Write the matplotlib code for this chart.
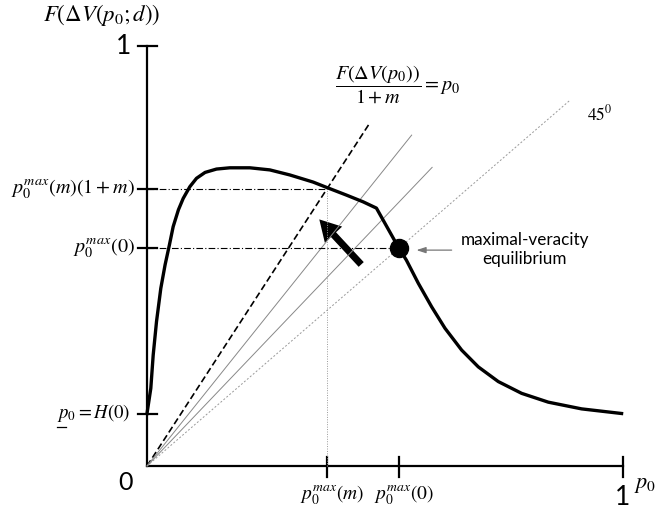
import matplotlib
matplotlib.use("Agg")
import matplotlib.pyplot as plt
from matplotlib.patches import FancyArrowPatch

plt.rcParams['mathtext.fontset'] = 'stix'
plt.rcParams['font.family'] = ['Lato', 'DejaVu Sans']

# curve F(dV(p0; d))
p0_vals = [0.0, 0.008, 0.013, 0.020, 0.029, 0.038, 0.047, 0.055, 0.066, 0.076,
           0.090, 0.104, 0.122, 0.146, 0.174, 0.216, 0.258, 0.300, 0.349,
           0.378, 0.419, 0.454, 0.482, 0.529, 0.545, 0.570, 0.598, 0.626,
           0.661, 0.696, 0.738, 0.787, 0.843, 0.913, 0.997]
F_vals = [0.125, 0.185, 0.264, 0.344, 0.423, 0.479, 0.526, 0.570, 0.610, 0.637,
          0.665, 0.685, 0.699, 0.707, 0.710, 0.710, 0.705, 0.693, 0.676,
          0.663, 0.645, 0.629, 0.614, 0.519, 0.490, 0.435, 0.379, 0.328,
          0.276, 0.236, 0.201, 0.173, 0.152, 0.136, 0.125]

# rays from the origin: slope and where they stop
ray_slopes = [1.745, 1.417, 1.187, 0.98]
ray_ends = [0.468, 0.556, 0.599, 0.887]

p_max_m = 0.378      # p0^max(m)
p_max_0 = 0.529      # p0^max(0)
y_max_m = 0.660      # p0^max(m)(1+m)
y_max_0 = 0.519      # p0^max(0)
p_low = 0.125        # p0 = H(0)

fig = plt.figure(figsize=(6.56, 5.12), dpi=100)
ax = fig.add_axes([0, 0, 1, 1])
ax.set_xlim(-147 / 476, 509 / 476)
ax.set_ylim(-46 / 420, 466 / 420)
ax.axis('off')

# axes
ax.plot([0, 0], [0, 1], color='k', lw=1.6)
ax.plot([0, 1], [0, 0], color='k', lw=1.6)
for yt in [1, y_max_m, y_max_0, p_low]:
    ax.plot([-0.019, 0.021], [yt, yt], color='k', lw=1.6)
for xt in [p_max_m, p_max_0, 1]:
    ax.plot([xt, xt], [-0.026, 0.021], color='k', lw=1.6)

# rays
styles = [dict(color='k', lw=1.2, ls=(0, (4, 2))),
          dict(color='#888888', lw=0.7, ls='-'),
          dict(color='#888888', lw=0.7, ls='-'),
          dict(color='#999999', lw=0.7, ls=(0, (2, 2)))]
for s, e, st in zip(ray_slopes, ray_ends, styles):
    ax.plot([0, e], [0, s * e], **st)

# guide lines
ax.plot([0, p_max_m], [y_max_m, y_max_m], color='k', lw=0.8, ls=(0, (6, 2, 1, 2)))
ax.plot([0, p_max_0], [y_max_0, y_max_0], color='k', lw=0.8, ls=(0, (6, 2, 1, 2)))
ax.plot([p_max_m, p_max_m], [0, y_max_m], color='#999999', lw=0.7, ls=(0, (1, 1.5)))

# the curve
ax.plot(p0_vals, F_vals, color='k', lw=2.4, solid_joinstyle='round')
ax.plot([p_max_0], [y_max_0], 'o', color='k', ms=13)

# arrows
ax.add_patch(FancyArrowPatch((0.454, 0.475), (0.358, 0.592),
                             arrowstyle='simple,head_width=1.7,head_length=1.5,tail_width=0.5',
                             mutation_scale=10, color='k', lw=0))
ax.add_patch(FancyArrowPatch((0.640, 0.514), (0.566, 0.514),
                             arrowstyle='-|>,head_width=0.18,head_length=0.55',
                             mutation_scale=10, color='#777777', lw=0.9,
                             shrinkA=0, shrinkB=0))

# text
ax.text(-0.0945, 1.074, r'$F(\Delta V(p_0;d))$', fontsize=16.5, ha='center', va='center')
ax.text(-0.050, 0.998, '1', fontsize=19, ha='center', va='center')
ax.text(-0.046, -0.040, '0', fontsize=18, ha='center', va='center')
ax.text(1.0, -0.076, '1', fontsize=19, ha='center', va='center')
ax.text(1.046, -0.045, r'$p_0$', fontsize=16, ha='center', va='center')

ax.text(-0.025, y_max_m, r'$p_0^{max}(m)(1+m)$', fontsize=14.5, ha='right', va='center')
ax.text(-0.025, y_max_0, r'$p_0^{max}(0)$', fontsize=14.5, ha='right', va='center')
ax.text(-0.190, p_low, r'$p_0 = H(0)$', fontsize=13.5, ha='left', va='center')
ax.plot([-0.189, -0.170], [0.093, 0.093], color='k', lw=0.9)

ax.text(p_max_m + 0.010, -0.069, r'$p_0^{max}(m)$', fontsize=14, ha='center', va='center')
ax.text(p_max_0 + 0.010, -0.069, r'$p_0^{max}(0)$', fontsize=14, ha='center', va='center')

ax.text(0.527, 0.910, r'$\dfrac{F(\Delta V(p_0))}{1+m} = p_0$', fontsize=14.5, ha='center', va='center')
ax.text(0.952, 0.840, r'$45^0$', fontsize=12.5, ha='center', va='center')
ax.text(0.794, 0.516, 'maximal-veracity\nequilibrium', fontsize=12.3,
        ha='center', va='center', linespacing=1.2)

fig.savefig('out.png', dpi=100)
